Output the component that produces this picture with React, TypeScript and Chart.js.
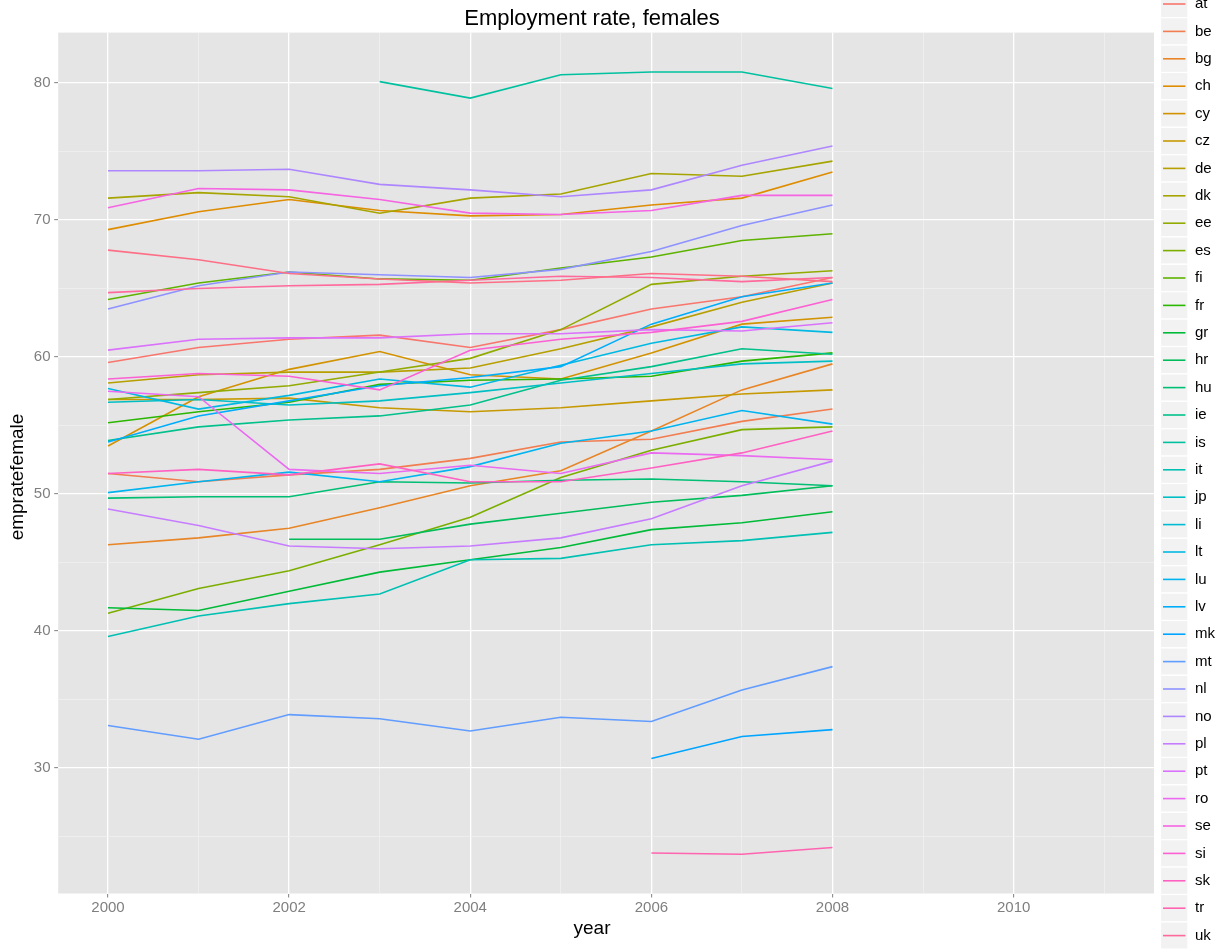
import React, { useEffect, useRef } from "react";
import { Chart, registerables } from "chart.js";

Chart.register(...registerables);

// ---------- data ----------
const years = [2000, 2001, 2002, 2003, 2004, 2005, 2006, 2007, 2008];

const countries = [
  "at", "be", "bg", "ch", "cy", "cz", "de", "dk", "ee", "es", "fi", "fr",
  "gr", "hr", "hu", "ie", "is", "it", "jp", "li", "lt", "lu", "lv", "mk",
  "mt", "nl", "no", "pl", "pt", "ro", "se", "si", "sk", "tr", "uk", "us",
];

const at = [59.6, 60.7, 61.3, 61.6, 60.7, 62.0, 63.5, 64.4, 65.8];
const be = [51.5, 50.9, 51.4, 51.8, 52.6, 53.8, 54.0, 55.3, 56.2];
const bg = [46.3, 46.8, 47.5, 49.0, 50.6, 51.7, 54.6, 57.6, 59.5];
const ch = [69.3, 70.6, 71.5, 70.7, 70.3, 70.4, 71.1, 71.6, 73.5];
const cy = [53.5, 57.1, 59.1, 60.4, 58.7, 58.4, 60.3, 62.4, 62.9];
const cz = [56.9, 56.9, 57.0, 56.3, 56.0, 56.3, 56.8, 57.3, 57.6];
const de = [58.1, 58.7, 58.9, 58.9, 59.2, 60.6, 62.2, 64.0, 65.4];
const dk = [71.6, 72.0, 71.7, 70.5, 71.6, 71.9, 73.4, 73.2, 74.3];
const ee = [56.9, 57.4, 57.9, 58.9, 59.9, 62.0, 65.3, 65.9, 66.3];
const es = [41.3, 43.1, 44.4, 46.3, 48.3, 51.2, 53.2, 54.7, 54.9];
const fi = [64.2, 65.4, 66.2, 65.7, 65.6, 66.5, 67.3, 68.5, 69.0];
const fr = [55.2, 56.0, 56.7, 58.0, 58.3, 58.4, 58.6, 59.7, 60.3];
const gr = [41.7, 41.5, 42.9, 44.3, 45.2, 46.1, 47.4, 47.9, 48.7];
const hr = [null, null, 46.7, 46.7, 47.8, 48.6, 49.4, 49.9, 50.6];
const hu = [49.7, 49.8, 49.8, 50.9, 50.8, 51.0, 51.1, 50.9, 50.6];
const ie = [53.9, 54.9, 55.4, 55.7, 56.5, 58.3, 59.3, 60.6, 60.2];
const is = [null, null, null, 80.1, 78.9, 80.6, 80.8, 80.8, 79.6];
const it = [39.6, 41.1, 42.0, 42.7, 45.2, 45.3, 46.3, 46.6, 47.2];
const jp = [56.7, 56.9, 56.5, 56.8, 57.4, 58.1, 58.8, 59.5, 59.7];
const li = [null, null, null, null, null, null, null, null, null];
const lt = [57.7, 56.2, 57.2, 58.4, 57.8, 59.4, 61.0, 62.2, 61.8];
const lu = [50.1, 50.9, 51.6, 50.9, 52.0, 53.7, 54.6, 56.1, 55.1];
const lv = [53.8, 55.7, 56.8, 57.9, 58.5, 59.3, 62.4, 64.4, 65.4];
const mk = [null, null, null, null, null, null, 30.7, 32.3, 32.8];
const mt = [33.1, 32.1, 33.9, 33.6, 32.7, 33.7, 33.4, 35.7, 37.4];
const nl = [63.5, 65.2, 66.2, 66.0, 65.8, 66.4, 67.7, 69.6, 71.1];
const no = [73.6, 73.6, 73.7, 72.6, 72.2, 71.7, 72.2, 74.0, 75.4];
const pl = [48.9, 47.7, 46.2, 46.0, 46.2, 46.8, 48.2, 50.6, 52.4];
const pt = [60.5, 61.3, 61.4, 61.4, 61.7, 61.7, 62.0, 61.9, 62.5];
const ro = [57.5, 57.1, 51.8, 51.5, 52.1, 51.5, 53.0, 52.8, 52.5];
const se = [70.9, 72.3, 72.2, 71.5, 70.5, 70.4, 70.7, 71.8, 71.8];
const si = [58.4, 58.8, 58.6, 57.6, 60.5, 61.3, 61.8, 62.6, 64.2];
const sk = [51.5, 51.8, 51.4, 52.2, 50.9, 50.9, 51.9, 53.0, 54.6];
const tr = [null, null, null, null, null, null, 23.8, 23.7, 24.2];
const uk = [64.7, 65.0, 65.2, 65.3, 65.6, 65.9, 65.8, 65.5, 65.8];
const us = [67.8, 67.1, 66.1, 65.7, 65.4, 65.6, 66.1, 65.9, 65.5];

const seriesValues = [
  at, be, bg, ch, cy, cz, de, dk, ee, es, fi, fr, gr, hr, hu, ie, is, it,
  jp, li, lt, lu, lv, mk, mt, nl, no, pl, pt, ro, se, si, sk, tr, uk, us,
];

const xMajorTicks = [2000, 2002, 2004, 2006, 2008, 2010];
const xMinorTicks = [2001, 2003, 2005, 2007, 2009, 2011];
const yMajorTicks = [30, 40, 50, 60, 70, 80];
const yMinorTicks = [25, 35, 45, 55, 65, 75];

const chartTitle = "Employment rate, females";
const xTitle = "year";
const yTitle = "empratefemale";

// ---------- styling helpers ----------
function hclColor(h: number, c = 100, l = 65): string {
  const WX = 95.047, WY = 100.0, WZ = 108.883;
  const hr = (h * Math.PI) / 180;
  const U = c * Math.cos(hr);
  const V = c * Math.sin(hr);
  const Y = WY * (l > 7.999592 ? Math.pow((l + 16) / 116, 3) : l / 903.3);
  const den = WX + 15 * WY + 3 * WZ;
  const un = (4 * WX) / den;
  const vn = (9 * WY) / den;
  const u = U / (13 * l) + un;
  const v = V / (13 * l) + vn;
  const X = (9 * Y * u) / (4 * v);
  const Z = -X / 3 - 5 * Y + (3 * Y) / v;
  const x = X / 100, y = Y / 100, z = Z / 100;
  const gam = (a: number) =>
    a > 0.0031308 ? 1.055 * Math.pow(a, 1 / 2.4) - 0.055 : 12.92 * a;
  const ch = (a: number) => {
    const n = Math.round(Math.max(0, Math.min(1, gam(a))) * 255);
    return n.toString(16).padStart(2, "0");
  };
  const r = 3.240479 * x - 1.53715 * y - 0.498535 * z;
  const g = -0.969256 * x + 1.875992 * y + 0.041556 * z;
  const b = 0.055648 * x - 0.204043 * y + 1.057311 * z;
  return "#" + ch(r) + ch(g) + ch(b);
}

const colors = countries.map((_, i) => hclColor(15 + (360 / countries.length) * i));

const FONT = '"Liberation Sans", Arial, Helvetica, sans-serif';

const panelBgPlugin = {
  id: "panelBg",
  beforeDraw(chart: any) {
    const { ctx, chartArea: a } = chart;
    ctx.save();
    ctx.fillStyle = "#E5E5E5";
    ctx.fillRect(a.left, a.top, a.right - a.left, a.bottom - a.top);
    ctx.restore();
  },
};

const titlesPlugin = {
  id: "ggTitles",
  afterDraw(chart: any) {
    const { ctx } = chart;
    ctx.save();
    ctx.fillStyle = "#000000";
    ctx.textAlign = "center";
    ctx.textBaseline = "middle";
    ctx.font = `22px ${FONT}`;
    ctx.fillText(chartTitle, 592, 19);
    ctx.font = `19px ${FONT}`;
    ctx.fillText(xTitle, 592, 929);
    ctx.translate(18, 477);
    ctx.rotate(-Math.PI / 2);
    ctx.fillText(yTitle, 0, 0);
    ctx.restore();
  },
};

const legendPlugin = {
  id: "ggLegend",
  afterDraw(chart: any) {
    const { ctx } = chart;
    const step = 27.4;
    const top = 4;
    const keyLeft = 1160.5;
    ctx.save();
    countries.forEach((name, i) => {
      const cyy = top + i * step;
      ctx.fillStyle = "#F2F2F2";
      ctx.fillRect(keyLeft, cyy - step / 2, step, step);
      ctx.strokeStyle = "#FFFFFF";
      ctx.lineWidth = 1.2;
      ctx.strokeRect(keyLeft, cyy - step / 2, step, step);
      ctx.strokeStyle = colors[i];
      ctx.lineWidth = 1.6;
      ctx.beginPath();
      ctx.moveTo(keyLeft + 2.5, cyy);
      ctx.lineTo(keyLeft + step - 2.5, cyy);
      ctx.stroke();
      ctx.fillStyle = "#000000";
      ctx.font = `15px ${FONT}`;
      ctx.textAlign = "left";
      ctx.textBaseline = "middle";
      ctx.fillText(name, 1195, cyy);
    });
    ctx.restore();
  },
};

export default function App() {
  const canvasRef = useRef<HTMLCanvasElement | null>(null);

  useEffect(() => {
    const canvas = canvasRef.current;
    if (!canvas) return;

    const datasets = countries.map((name, i) => ({
      label: name,
      data: years.map((yr, j) => ({ x: yr, y: seriesValues[i][j] })),
      borderColor: colors[i],
      backgroundColor: colors[i],
      borderWidth: 1.6,
      pointRadius: 0,
      pointHoverRadius: 0,
      fill: false,
      tension: 0,
      spanGaps: false,
      order: countries.length - i,
    }));

    const chart = new Chart(canvas, {
      type: "line",
      data: { datasets },
      options: {
        responsive: false,
        animation: false,
        events: [],
        layout: { padding: { top: 32.6, right: 67, left: 0, bottom: 0 } },
        plugins: {
          legend: { display: false },
          tooltip: { enabled: false },
          title: { display: false },
        },
        scales: {
          x: {
            type: "linear",
            min: 1999.45,
            max: 2011.55,
            afterBuildTicks: (scale: any) => {
              scale.ticks = [...xMajorTicks, ...xMinorTicks]
                .sort((a, b) => a - b)
                .map((v) => ({ value: v }));
            },
            afterFit: (scale: any) => {
              scale.height = 55.5;
            },
            border: { display: false },
            grid: {
              color: (c: any) =>
                xMajorTicks.includes(c.tick?.value) ? "#FFFFFF" : "#F2F2F2",
              lineWidth: (c: any) => (xMajorTicks.includes(c.tick?.value) ? 1.3 : 0.7),
              drawTicks: true,
              tickLength: 4,
              tickWidth: 1,
              tickColor: (c: any) =>
                xMajorTicks.includes(c.tick?.value) ? "#7F7F7F" : "rgba(0,0,0,0)",
            },
            ticks: {
              autoSkip: false,
              maxRotation: 0,
              padding: 1.5,
              color: "#7F7F7F",
              font: { family: FONT, size: 15 },
              callback: (v: any) => (xMajorTicks.includes(Number(v)) ? String(v) : ""),
            },
            title: { display: false, text: xTitle },
          },
          y: {
            type: "linear",
            min: 20.84,
            max: 83.68,
            afterBuildTicks: (scale: any) => {
              scale.ticks = [...yMajorTicks, ...yMinorTicks]
                .sort((a, b) => a - b)
                .map((v) => ({ value: v }));
            },
            afterFit: (scale: any) => {
              scale.width = 58.2;
            },
            border: { display: false },
            grid: {
              color: (c: any) =>
                yMajorTicks.includes(c.tick?.value) ? "#FFFFFF" : "#F2F2F2",
              lineWidth: (c: any) => (yMajorTicks.includes(c.tick?.value) ? 1.3 : 0.7),
              drawTicks: true,
              tickLength: 4,
              tickWidth: 1,
              tickColor: (c: any) =>
                yMajorTicks.includes(c.tick?.value) ? "#7F7F7F" : "rgba(0,0,0,0)",
            },
            ticks: {
              autoSkip: false,
              padding: 3.7,
              color: "#7F7F7F",
              font: { family: FONT, size: 15 },
              callback: (v: any) => (yMajorTicks.includes(Number(v)) ? String(v) : ""),
            },
            title: { display: false, text: yTitle },
          },
        },
      },
      plugins: [panelBgPlugin, titlesPlugin, legendPlugin],
    });

    return () => {
      chart.destroy();
    };
  }, []);

  return (
    <div
      style={{
        position: "fixed",
        left: 0,
        top: 0,
        width: 1221,
        height: 949,
        background: "#FFFFFF",
      }}
    >
      <canvas ref={canvasRef} width={1221} height={949} style={{ display: "block" }} />
    </div>
  );
}
